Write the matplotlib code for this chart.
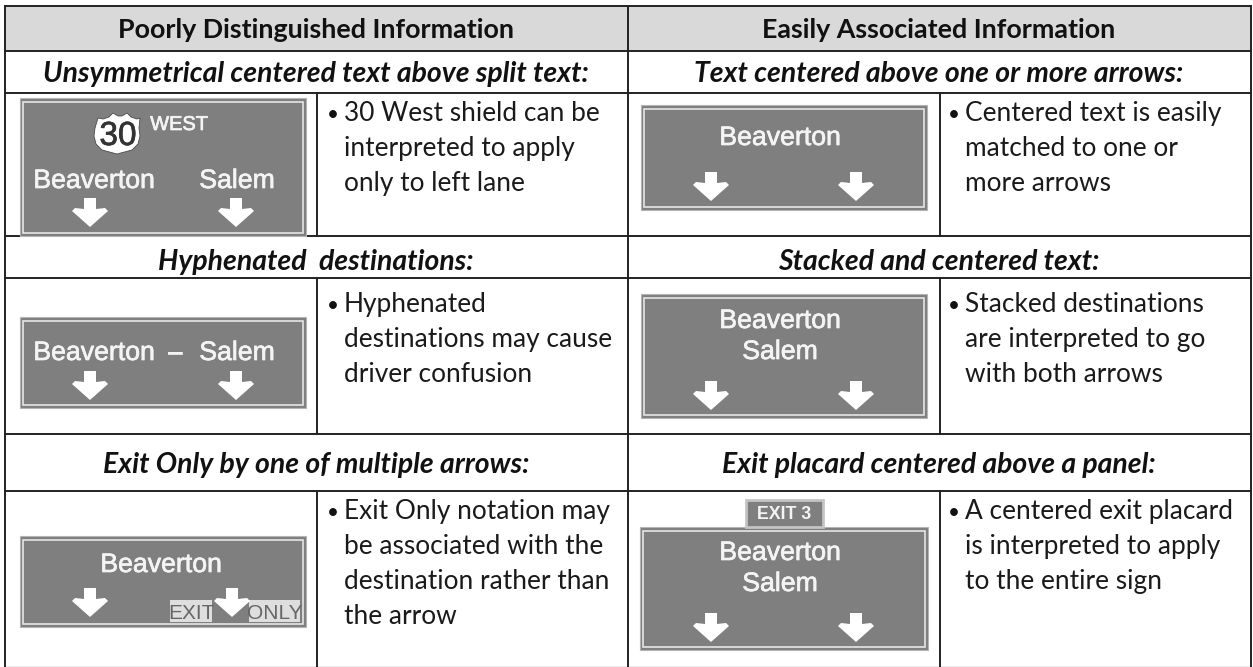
import matplotlib
matplotlib.use("Agg")
import matplotlib.pyplot as plt
import matplotlib.patheffects as pe
from matplotlib.patches import Polygon, Rectangle

W, H = 1253, 667

headers = ["Poorly Distinguished Information", "Easily Associated Information"]

subheads_left = ["Unsymmetrical centered text above split text:",
                 "Hyphenated  destinations:",
                 "Exit Only by one of multiple arrows:"]
subheads_right = ["Text centered above one or more arrows:",
                  "Stacked and centered text:",
                  "Exit placard centered above a panel:"]

notes_left = [["30 West shield can be", "interpreted to apply", "only to left lane"],
              ["Hyphenated", "destinations may cause", "driver confusion"],
              ["Exit Only notation may", "be associated with the", "destination rather than", "the arrow"]]
notes_right = [["Centered text is easily", "matched to one or", "more arrows"],
               ["Stacked destinations", "are interpreted to go", "with both arrows"],
               ["A centered exit placard", "is interpreted to apply", "to the entire sign"]]

BODY = "Lato"
SIGN = "Liberation Sans"
NARROW = ["Liberation Sans Narrow", SIGN]
LINE = "#222222"


def arrow(ax, cx, top):
    pts = [(-6, 0), (6, 0), (6, 11), (15, 10), (18, 13), (0, 29), (-18, 13), (-15, 10), (-6, 11)]
    ax.add_patch(Polygon([(cx + x, top + y) for x, y in pts], fc="white", ec="none", zorder=5))


def sign(ax, x0, y0, x1, y1):
    ax.add_patch(Rectangle((x0, y0), x1 - x0, y1 - y0, fc="#7f7f7f", ec="#b4b4b4", lw=0.8, zorder=2))
    ax.add_patch(Rectangle((x0 + 3, y0 + 3.5), x1 - x0 - 6, y1 - y0 - 7, fc="none", ec="#e6e6e6", lw=1.2, zorder=3))


def sign_text(ax, x, y, s, size=19.2, color="#f4f4f4", weight="normal", family=SIGN, stroke=0.5):
    t = ax.text(x, y, s, fontsize=size, family=family, color=color, ha="center", va="baseline",
                weight=weight, zorder=6)
    if stroke:
        t.set_path_effects([pe.withStroke(linewidth=stroke, foreground=color)])


def note(ax, x_bullet, x_text, baselines, lines):
    ax.text(x_bullet, baselines[0], "•", fontsize=15, family=BODY, color="#111111", va="baseline")
    for y, s in zip(baselines, lines):
        ax.text(x_text, y, s, fontsize=18.9, family=BODY, color="#1a1a1a", va="baseline")


fig = plt.figure(figsize=(W / 100, H / 100), dpi=100)
ax = fig.add_axes([0, 0, 1, 1])
ax.set_xlim(0, W)
ax.set_ylim(H, 0)
ax.axis("off")

# table frame
ax.add_patch(Rectangle((5, 6), 1245.5, 45, fc="#d9d9d9", ec="none", zorder=0))
for y in [6, 51, 93, 236, 278, 434, 491]:
    ax.plot([5, 1250.5], [y, y], color=LINE, lw=1.4, zorder=1)
ax.plot([5, 1250.5], [666.5, 666.5], color="#9a9a9a", lw=1.0, zorder=1)
for x in [5, 628, 1250.5]:
    ax.plot([x, x], [6, 667], color=LINE, lw=1.4, zorder=1)
for x in [316.5, 939.5]:
    for y0, y1 in [(93, 236), (278, 434), (491, 667)]:
        ax.plot([x, x], [y0, y1], color=LINE, lw=1.4, zorder=1)

# headings
for cx, s in zip([316, 939], headers):
    ax.text(cx, 38, s, fontsize=19.4, family=BODY, weight="bold", color="#111111", ha="center", va="baseline")
for cx, col in zip([316, 939], [subheads_left, subheads_right]):
    for y, s in zip([82, 270, 473], col):
        ax.text(cx, y, s, fontsize=20.4, family=BODY, weight="bold", style="italic", color="#111111",
                ha="center", va="baseline")

# notes
base_rows = [[121, 156, 191], [312, 347, 382], [519, 554, 589, 624]]
for r in range(3):
    note(ax, 327, 344, base_rows[r], notes_left[r])
    note(ax, 948, 965, base_rows[r], notes_right[r])

# left column signs
sign(ax, 20, 98, 306, 236)
shield = [(98, 118), (103, 119), (109, 117), (113, 113), (118, 116), (122, 116), (127, 113),
          (131, 117), (137, 119), (140, 118), (139, 128), (140, 136), (138, 144), (132, 150),
          (117, 154), (102, 150), (96, 144), (94, 136), (95, 128)]
ax.add_patch(Polygon(shield, fc="white", ec="#4a4a4a", lw=0.6, zorder=4))
sign_text(ax, 118, 145, "30", size=24, color="#333333", family=NARROW)
sign_text(ax, 179, 130, "WEST", size=14.4)
sign_text(ax, 94, 188, "Beaverton")
sign_text(ax, 237, 188, "Salem")
arrow(ax, 90, 198)
arrow(ax, 236, 198)

sign(ax, 20, 317, 306, 408)
sign_text(ax, 94, 360, "Beaverton")
sign_text(ax, 175, 360, "–")
sign_text(ax, 237, 360, "Salem")
arrow(ax, 90, 371)
arrow(ax, 236, 371)

sign(ax, 20, 536, 306, 627)
sign_text(ax, 161, 572, "Beaverton")
arrow(ax, 90, 588)
ax.add_patch(Rectangle((170, 600), 42, 22, fc="#dedede", ec="none", zorder=4))
ax.add_patch(Rectangle((249, 600), 51, 22, fc="#dedede", ec="none", zorder=4))
sign_text(ax, 191, 619, "EXIT", size=15, color="#666666", family=NARROW, stroke=0)
sign_text(ax, 275, 619, "ONLY", size=15, color="#666666", family=NARROW, stroke=0)
arrow(ax, 232, 588)

# right column signs
sign(ax, 641, 105, 927, 210)
sign_text(ax, 780, 145, "Beaverton")
arrow(ax, 711, 172)
arrow(ax, 856, 172)

sign(ax, 641, 294, 927, 418)
sign_text(ax, 780, 328, "Beaverton")
sign_text(ax, 780, 359, "Salem")
arrow(ax, 711, 381)
arrow(ax, 856, 381)

sign(ax, 640, 527, 928, 650)
sign_text(ax, 780, 560, "Beaverton")
sign_text(ax, 780, 591, "Salem")
arrow(ax, 711, 613)
arrow(ax, 856, 613)
ax.add_patch(Rectangle((745.5, 500), 77.5, 27, fc="#7f7f7f", ec="#c4c4c4", lw=2, zorder=2))
sign_text(ax, 784.5, 519, "EXIT 3", size=12.8, weight="bold", stroke=0)

fig.savefig("out.png", dpi=100)
